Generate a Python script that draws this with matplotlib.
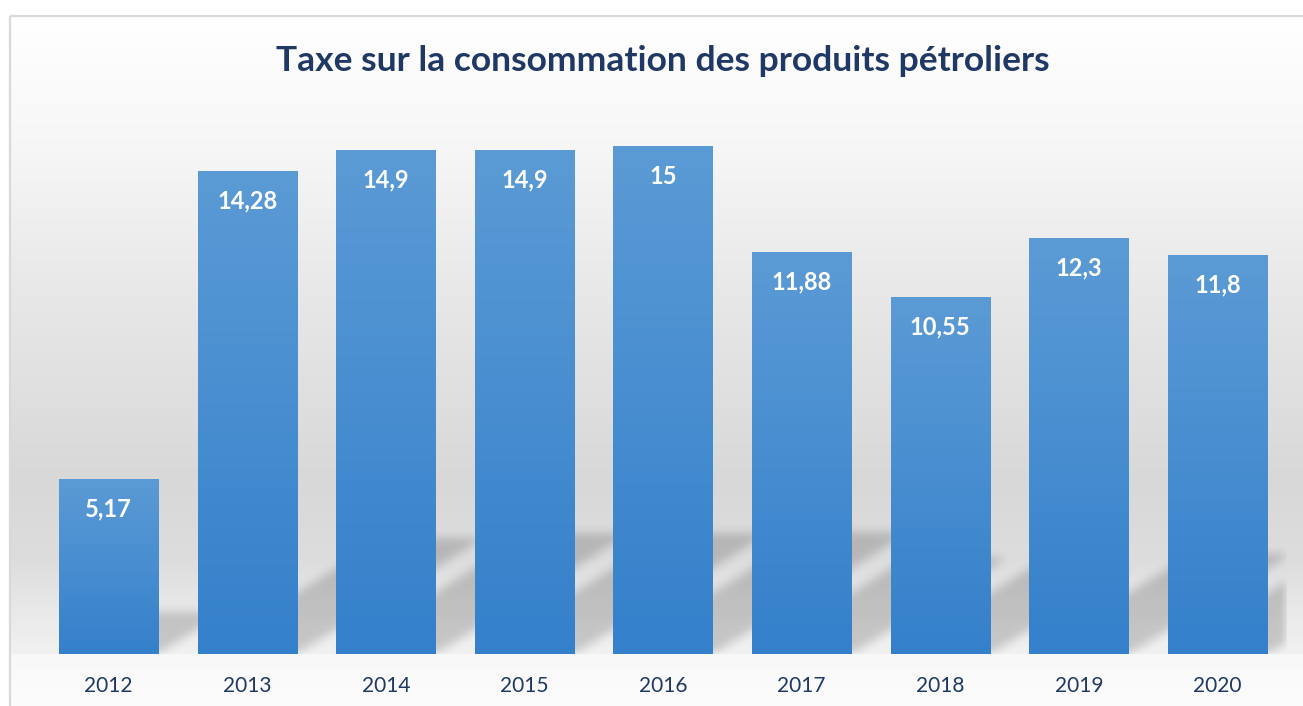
import numpy as np
import matplotlib.pyplot as plt
from matplotlib.patches import Rectangle

# data
years = ['2012', '2013', '2014', '2015', '2016', '2017', '2018', '2019', '2020']
values = [5.17, 14.28, 14.9, 14.9, 15, 11.88, 10.55, 12.3, 11.8]
value_labels = ['5,17', '14,28', '14,9', '14,9', '15', '11,88', '10,55', '12,3', '11,8']
title = 'Taxe sur la consommation des produits pétroliers'

W, H = 1303, 706
navy = '#1f3864'
bar_top = np.array([0x5b, 0x9b, 0xd5]) / 255
bar_bottom = np.array([0x34, 0x80, 0xcb]) / 255

plt.rcParams['font.family'] = ['Lato', 'DejaVu Sans']

fig = plt.figure(figsize=(W / 100, H / 100), dpi=100, facecolor='white')

# background: chart frame with vertical grey gradient
bg = fig.add_axes([0, 0, 1, 1], zorder=0)
bg.set_xlim(0, W)
bg.set_ylim(H, 0)
bg.axis('off')
stops_y = [15, 140, 290, 480, 560, 620, 653, 655, 706]
stops_c = [255, 247, 232, 216, 221, 235, 241, 248, 252]
rows = np.interp(np.arange(15, H) + 0.5, stops_y, stops_c) / 255
grad_bg = np.repeat(rows[:, None, None], 3, axis=2)
bg.imshow(grad_bg, extent=(10, W + 5, H, 15), aspect='auto', interpolation='bilinear')
bg.add_patch(Rectangle((9.5, 15.5), W, H, fill=False, edgecolor='#d9d9d9', lw=1.6))
bg.set_xlim(0, W)
bg.set_ylim(H, 0)

# plot area
left, right, base, top = 39.2, 1286.8, 654, 113
ax = fig.add_axes([left / W, (H - base) / H, (right - left) / W, (base - top) / H], zorder=1)
ax.patch.set_visible(False)
for s in ax.spines.values():
    s.set_visible(False)

x = np.arange(len(years))
bars = ax.bar(x, values, width=0.715, color='none', edgecolor='none')
ax.set_xlim(-0.5, len(years) - 0.5)
ax.set_ylim(0, 16)

# soft perspective shadows behind the bars
nx, ny = int(right - left), int(base - top)
ox, oy = ax.transAxes.transform((0, 0))
XP, YP = np.meshgrid(np.arange(nx) + 0.5, np.arange(ny) + 0.5)
slope, squash = 0.62, 0.24
mask = np.zeros((ny, nx))
for b in bars:
    (x0, y0), (x1, y1) = ax.transData.transform([(b.get_x(), 0), (b.get_x() + b.get_width(), b.get_height())])
    hp = y1 - y0
    xl, xr = x0 - ox, x1 - ox
    inside = (YP <= squash * hp) & (XP >= xl + YP / slope) & (XP <= xr + YP / slope)
    mask[inside] = 1


def blur(a, r):
    k = np.ones(2 * r + 1) / (2 * r + 1)
    a = np.pad(a, r, mode='constant')
    a = np.apply_along_axis(lambda m: np.convolve(m, k, mode='same'), 0, a)
    a = np.apply_along_axis(lambda m: np.convolve(m, k, mode='same'), 1, a)
    return a[r:-r, r:-r]


for _ in range(3):
    mask = blur(mask, 4)
shadow = np.zeros((ny, nx, 4))
shadow[..., 3] = np.clip(mask, 0, 1) * 0.17
ax.imshow(shadow, extent=(-0.5, len(years) - 0.5, 0, 16), origin='lower', aspect='auto', zorder=1)

# gradient-filled bars
t = np.linspace(0, 1, 256)[:, None]
grad_bar = (bar_top * (1 - t) + bar_bottom * t)[:, None, :]
for b in bars:
    ax.imshow(grad_bar, extent=(b.get_x(), b.get_x() + b.get_width(), 0, b.get_height()),
              aspect='auto', origin='upper', interpolation='bilinear', zorder=2)

for xi, v, lab in zip(x, values, value_labels):
    ax.annotate(lab, (xi, v), xytext=(0, -21.5), textcoords='offset points', ha='center', va='center',
                color='white', fontsize=17, fontweight='bold', zorder=3)

ax.set_xlim(-0.5, len(years) - 0.5)
ax.set_ylim(0, 16)
ax.set_yticks([])
ax.set_xticks(x, years)
ax.tick_params(axis='x', length=0, pad=16, labelsize=15, labelcolor=navy)

fig.text(663 / W, 1 - 61 / H, title, ha='center', va='center', fontsize=25.5, fontweight='bold', color=navy)

fig.savefig('out.png', dpi=100, facecolor='white')
